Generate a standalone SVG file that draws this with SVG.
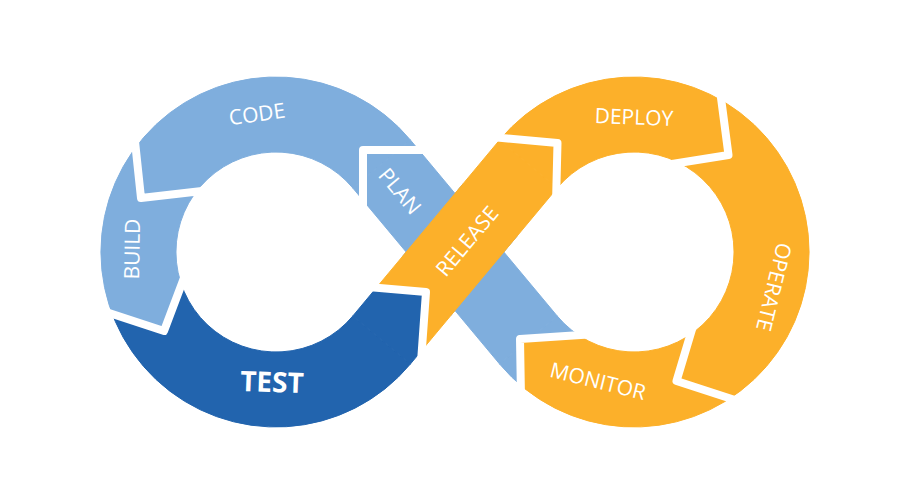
<svg xmlns="http://www.w3.org/2000/svg" xmlns:xlink="http://www.w3.org/1999/xlink" width="900" height="500" viewBox="0 0 900 500">
  <style>
    .lb { fill:#7FAEDD; stroke:#7FAEDD; stroke-width:1; }
    .db { fill:#2264AE; stroke:#2264AE; stroke-width:1; }
    .or { fill:#FCB02A; stroke:#FCB02A; stroke-width:1; }
    .lbl { font-family:"Open Sans","Noto Sans","DejaVu Sans",sans-serif; font-size:21px; fill:#fff; text-anchor:middle; }
    .big { font-size:28px; font-weight:bold; }
    .sep { fill:none; stroke:#fff; stroke-width:8; stroke-linejoin:round; stroke-linecap:butt; }
  </style>
  <defs>
    <path id="pA" d="M410.4 140 A175 175 0 1 0 410.4 364 L352.8 316 A100 100 0 1 1 352.8 188 Z"/>
    <path id="pB" d="M499.6 364 A175 175 0 1 0 499.6 140 L557.2 188 A100 100 0 1 1 557.2 316 Z"/>
    <polygon id="pC" points="410.4,140 557.2,316 499.6,364 352.8,188"/>
    <polygon id="pD" points="352.8,316 499.6,140 557.2,188 410.4,364"/>
    <g id="band">
      <use xlink:href="#pA"/><use xlink:href="#pB"/><use xlink:href="#pC"/><use xlink:href="#pD"/>
    </g>
    <clipPath id="cPlan"><polygon points="360,207 363,150 428,150 604,318 596,334 520,339 521,398 505,380"/></clipPath>
    <clipPath id="cCode"><polygon points="202,191 141,198 134,132 134,40 430,40 428,150 363,150 363,207"/></clipPath>
    <clipPath id="cBuild"><polygon points="187,270 164,331 100,310 40,290 40,60 134,60 134,132 141,198 202,191"/></clipPath>
    <clipPath id="cTest"><polygon points="187,270 164,331 100,310 40,290 40,490 417,490 421,362 426,292 368,287"/></clipPath>
    <clipPath id="cMon"><polygon points="596,334 520,339 521,398 521,480 760,480 738,401 676.5,381 696,316"/></clipPath>
    <clipPath id="cOp"><polygon points="696,316 676.5,381 738,401 880,440 880,40 718,40 718,75 728.5,155 672,164"/></clipPath>
    <clipPath id="cDep"><polygon points="672,164 728.5,155 718,75 718,40 480,40 492,137 557.5,143 556,203"/></clipPath>
    <clipPath id="cRel"><polygon points="368,287 426,292 421,362 556,203 557.5,143 492,137 340,290"/></clipPath>
  </defs>

  <g id="plan">
    <use xlink:href="#band" class="lb" clip-path="url(#cPlan)"/>
    <text class="lbl" transform="translate(400,191) rotate(50)" y="7.5">PLAN</text>
  </g>
  <g id="code">
    <use xlink:href="#band" class="lb" clip-path="url(#cCode)"/>
    <text class="lbl" transform="translate(257,114) rotate(-8)" y="7.5">CODE</text>
  </g>
  <g id="build">
    <use xlink:href="#band" class="lb" clip-path="url(#cBuild)"/>
    <text class="lbl" transform="translate(132,249) rotate(-89)" y="7.5">BUILD</text>
  </g>
  <g id="test">
    <use xlink:href="#band" class="db" clip-path="url(#cTest)"/>
    <text class="lbl big" transform="translate(272,382) rotate(2)" y="10">TEST</text>
  </g>
  <g id="monitor">
    <use xlink:href="#band" class="or" clip-path="url(#cMon)"/>
    <text class="lbl" transform="translate(598,381) rotate(14)" y="7.5">MONITOR</text>
  </g>
  <g id="operate">
    <use xlink:href="#band" class="or" clip-path="url(#cOp)"/>
    <text class="lbl" transform="translate(774,287) rotate(104)" y="7.5">OPERATE</text>
  </g>
  <g id="deploy">
    <use xlink:href="#band" class="or" clip-path="url(#cDep)"/>
    <text class="lbl" transform="translate(634,117) rotate(2)" y="7.5">DEPLOY</text>
  </g>
  <g id="release">
    <g class="or" clip-path="url(#cRel)">
      <use xlink:href="#pD"/><use xlink:href="#pB"/>
    </g>
    <text class="lbl" transform="translate(467,241) rotate(-50)" y="7.5">RELEASE</text>
  </g>

  <g id="separators">
    <polyline class="sep" points="428,150 363,150 363,207"/>
    <polyline class="sep" points="134,132 141,198 202,191"/>
    <polyline class="sep" points="100,310 164,331 187,270"/>
    <polyline class="sep" points="368,287 426,292 421,362"/>
    <polyline class="sep" points="492,137 557.5,143 556,203"/>
    <polyline class="sep" points="718,75 728.5,155 672,164"/>
    <polyline class="sep" points="696,316 676.5,381 738,401"/>
    <polyline class="sep" points="596,334 520,339 521,398"/>
  </g>
</svg>
